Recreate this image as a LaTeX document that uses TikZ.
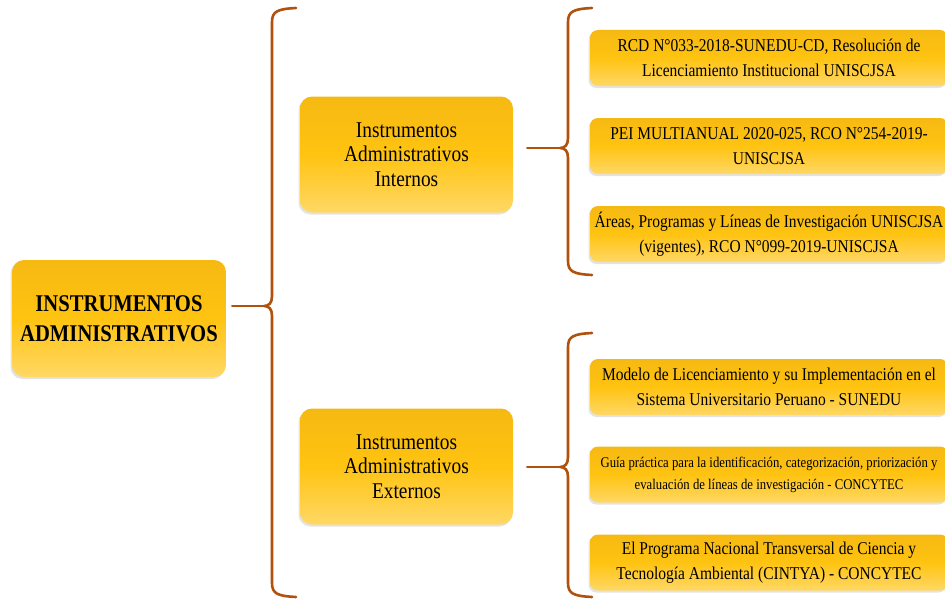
\documentclass[tikz,border=0pt]{standalone}
\usepackage{fontspec}
\setmainfont{Liberation Serif}[FakeStretch=0.86]
\usetikzlibrary{shadows}
\definecolor{braceC}{HTML}{B0520E}
\definecolor{gTop}{HTML}{F6B912}
\definecolor{gMid}{HTML}{FFC311}
\definecolor{gBot}{HTML}{FFD865}
\tikzset{
  ybox/.style={draw=none, rounded corners=12pt, top color=gTop, bottom color=gBot, middle color=gMid,
    align=center, inner sep=0pt, text=black,
    drop shadow={shadow xshift=-1.5pt, shadow yshift=-2pt, opacity=0.18, fill=black!60}},
  leafbox/.style={ybox, rounded corners=8pt, minimum width=358pt, minimum height=56pt},
  midbox/.style={ybox, minimum width=213pt, minimum height=116pt, font=\fontsize{22.5}{24.5}\selectfont},
  bracepath/.style={draw=braceC, line width=2.6pt, line cap=round, line join=round},
}
\newcommand{\mybrace}[5]{% x, top, bottom, tip y, name
  \draw[bracepath] (#1+24,#2) .. controls (#1+6,#2+1) and (#1,#2+3) .. (#1,#2+14)
    -- (#1,#4-10) .. controls (#1,#4-3) and (#1-3,#4) .. (#1-8,#4)
    .. controls (#1-3,#4) and (#1,#4+3) .. (#1,#4+10)
    -- (#1,#3-14) .. controls (#1,#3-3) and (#1+6,#3-1) .. (#1+24,#3);
  \coordinate (#5) at (#1-8,#4);
}
\begin{document}
\begin{tikzpicture}[x=1pt,y=-1pt]
\useasboundingbox[fill=white] (0,0) rectangle (945,602);

% main box
\node[ybox, minimum width=214pt, minimum height=117pt, font=\bfseries\fontsize{24}{30}\selectfont] (main) at (119,318.5)
  {INSTRUMENTOS\\ADMINISTRATIVOS};

% mid boxes
\node[midbox] (int) at (406.5,154.5) {Instrumentos\\Administrativos\\Internos};
\node[midbox] (ext) at (406.5,466.5) {Instrumentos\\Administrativos\\Externos};

% leaf boxes
\node[leafbox, font=\fontsize{18}{24.5}\selectfont] (i1) at (769,58) {RCD N°033-2018-SUNEDU-CD, Resolución de\\Licenciamiento Institucional UNISCJSA};
\node[leafbox, font=\fontsize{18}{24.5}\selectfont] (i2) at (769,146) {PEI MULTIANUAL 2020-025, RCO N°254-2019-\\UNISCJSA};
\node[leafbox, font=\fontsize{18}{24.5}\selectfont] (i3) at (769,234) {Áreas, Programas y Líneas de Investigación UNISCJSA\\(vigentes), RCO N°099-2019-UNISCJSA};
\node[leafbox, font=\fontsize{18}{24.5}\selectfont] (e1) at (769,387) {Modelo de Licenciamiento y su Implementación en el\\Sistema Universitario Peruano - SUNEDU};
\node[leafbox, font=\fontsize{14.8}{22}\selectfont] (e2) at (769,474.5) {Guía práctica para la identificación, categorización, priorización y\\evaluación de líneas de investigación - CONCYTEC};
\node[leafbox, font=\fontsize{18}{24.5}\selectfont] (e3) at (769,562.5) {El Programa Nacional Transversal de Ciencia y\\Tecnología Ambiental (CINTYA) - CONCYTEC};

% braces
\mybrace{272}{8}{597}{306}{tipM}
\mybrace{568}{8}{275}{148}{tipI}
\mybrace{568}{333}{597}{467}{tipE}

% connectors
\draw[bracepath] ([xshift=6pt]main.east |- tipM) -- (tipM);
\draw[bracepath] ([xshift=14pt]int.east |- tipI) -- (tipI);
\draw[bracepath] ([xshift=14pt]ext.east |- tipE) -- (tipE);
\end{tikzpicture}
\end{document}
